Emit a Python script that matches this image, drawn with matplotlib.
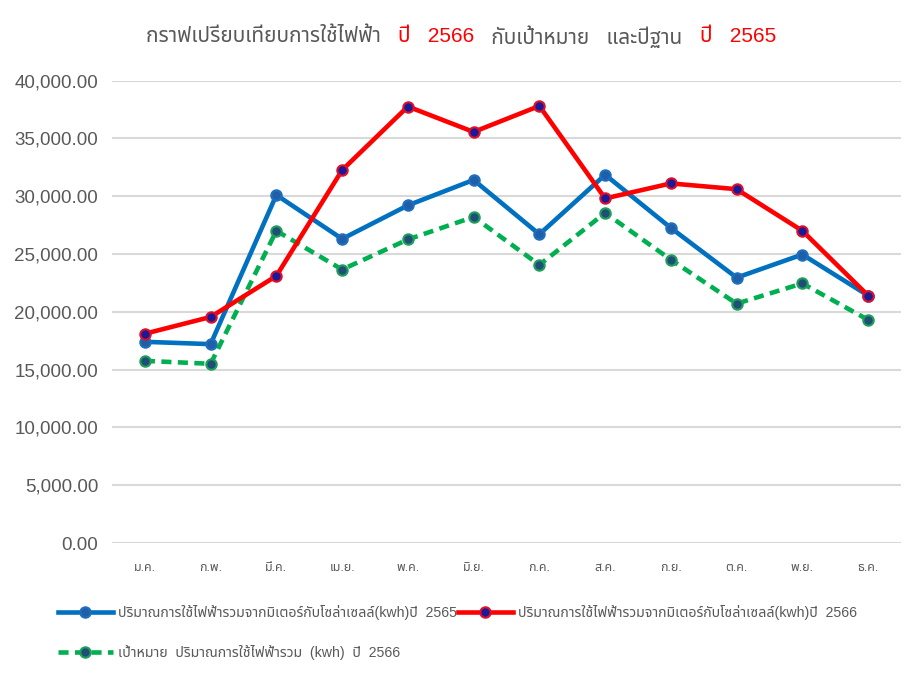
import matplotlib
matplotlib.use("Agg")
import matplotlib.pyplot as plt
from matplotlib.ticker import FuncFormatter, MultipleLocator

months = ["ม.ค.", "ก.พ.", "มี.ค.", "เม.ย.", "พ.ค.", "มิ.ย.", "ก.ค.", "ส.ค.", "ก.ย.", "ต.ค.", "พ.ย.", "ธ.ค."]
use_2565 = [17400, 17200, 30100, 26300, 29200, 31400, 26700, 31850, 27250, 22950, 24950, 21400]
use_2566 = [18100, 19550, 23100, 32250, 37750, 35550, 37800, 29800, 31100, 30600, 27000, 21400]
target_2566 = [15750, 15500, 27000, 23650, 26250, 28200, 24050, 28550, 24500, 20700, 22450, 19300]

label_2565 = "ปริมาณการใช้ไฟฟ้ารวมจากมิเตอร์กับโซล่าเซลล์(kwh)ปี  2565"
label_2566 = "ปริมาณการใช้ไฟฟ้ารวมจากมิเตอร์กับโซล่าเซลล์(kwh)ปี  2566"
label_target = "เป้าหมาย  ปริมาณการใช้ไฟฟ้ารวม  (kwh)  ปี  2566"

FAM = ["Liberation Sans", "Noto Sans Thai", "DejaVu Sans"]
plt.rcParams["font.family"] = FAM
GREY = "#595959"

fig = plt.figure(figsize=(9.23, 6.82), dpi=100)
ax = fig.add_axes([112/923, 1-543/682, (901-112)/923, (543-80.5)/682])

x = list(range(len(months)))
ax.plot(x, use_2565, color="#0070C0", lw=3.3, marker="o", ms=7.5,
        mfc="#1F5FA8", mec="#1F6FBF", mew=1.5, label=label_2565, zorder=3)
ax.plot(x, use_2566, color="#FF0000", lw=3.3, marker="o", ms=7.5,
        mfc="#1A1A99", mec="#E0102A", mew=1.5, label=label_2566, zorder=4)
ax.plot(x, target_2566, color="#00B050", lw=3.3, ls=(0, (2.2, 1.4)), marker="o", ms=7.5,
        mfc="#1F4E79", mec="#1FA05A", mew=1.5, label=label_target, zorder=2)

ax.set_xlim(-0.5, len(months) - 0.5)
ax.set_ylim(0, 40000)
ax.yaxis.set_major_locator(MultipleLocator(5000))
ax.yaxis.set_major_formatter(FuncFormatter(lambda v, p: f"{v:,.2f}"))
ax.set_xticks(x)
ax.set_xticklabels(months)
ax.grid(axis="y", color="#D9D9D9", lw=1.5)
ax.set_axisbelow(True)
for s in ax.spines.values():
    s.set_visible(False)
ax.tick_params(axis="both", length=0)
ax.tick_params(axis="y", labelsize=13.5, labelcolor=GREY, pad=10)
ax.tick_params(axis="x", labelsize=9, labelcolor=GREY, pad=14)

# title with coloured parts
parts = [("กราฟเปรียบเทียบการใช้ไฟฟ้า   ", GREY), ("ปี   2566", "#FF0000"),
         ("   กับเป้าหมาย   และปีฐาน   ", GREY), ("ปี   2565", "#FF0000")]
fig.canvas.draw()
r = fig.canvas.get_renderer()
texts = []
for s, c in parts:
    t = fig.text(0, 1 - 37/682, s, color=c, fontsize=15, va="center", ha="left")
    texts.append(t)
widths = [t.get_window_extent(r).width for t in texts]
total = sum(widths)
xpos = (461 - total / 2)
for t, w in zip(texts, widths):
    t.set_x(xpos / 923)
    xpos += w

h, l = ax.get_legend_handles_labels()
order = [0, 2, 1]
leg = fig.legend([h[i] for i in order], [l[i] for i in order], ncol=2,
                 loc="upper left", bbox_to_anchor=(52/923, 1 - 599/682),
                 frameon=False, fontsize=10.2, handlelength=3.9, columnspacing=0.05,
                 handletextpad=0.35, labelspacing=1.8, borderaxespad=0)
for t in leg.get_texts():
    t.set_color(GREY)

fig.savefig("out.png", dpi=100)
